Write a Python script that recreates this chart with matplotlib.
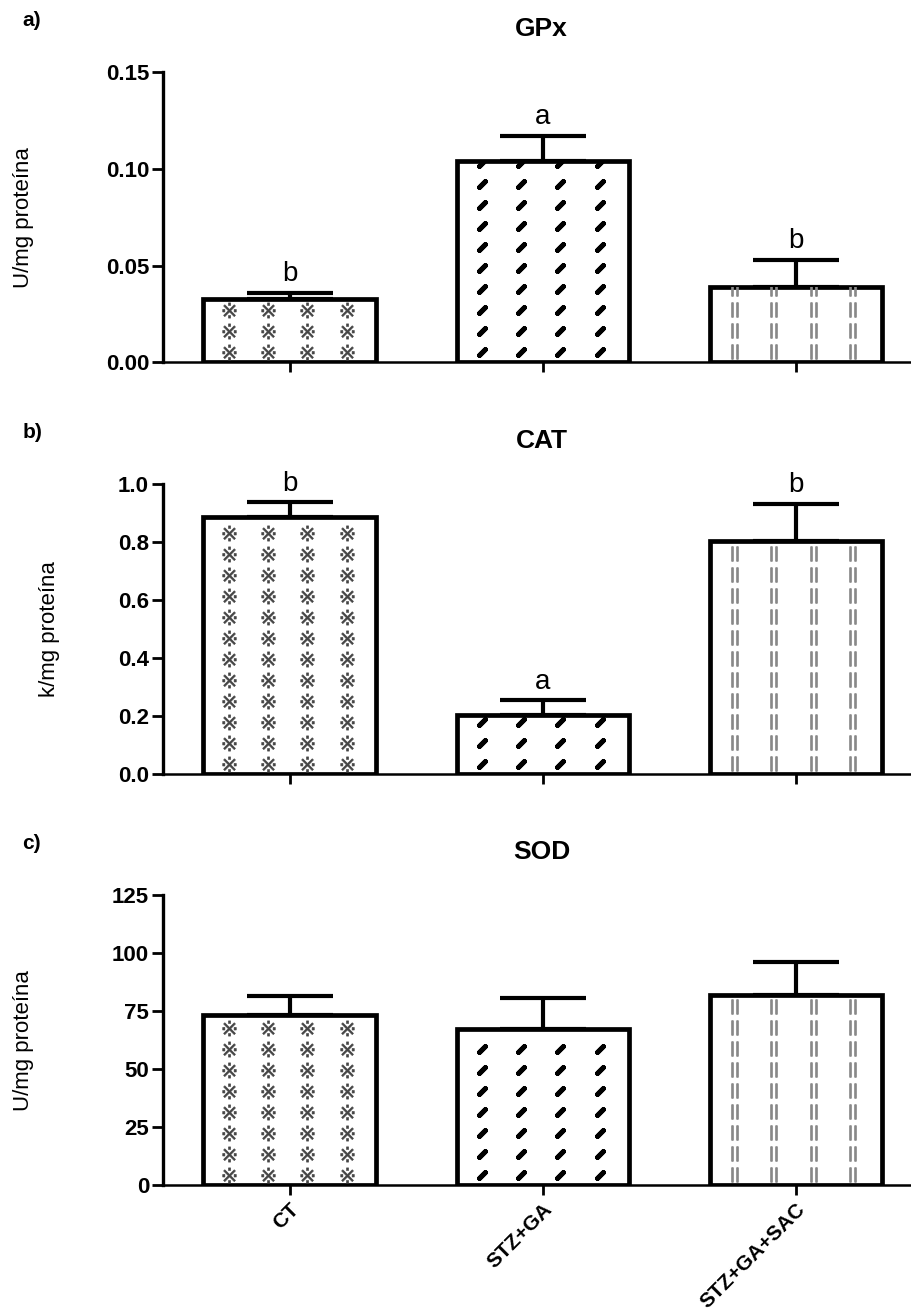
import matplotlib
matplotlib.use("Agg")
import matplotlib.pyplot as plt
import numpy as np

plt.rcParams['font.family'] = ['Liberation Sans', 'DejaVu Sans']

groups = ["CT", "STZ+GA", "STZ+GA+SAC"]

# GPx
gpx_mean = [0.033, 0.104, 0.039]
gpx_err = [0.003, 0.013, 0.014]
gpx_letters = ["b", "a", "b"]

# CAT
cat_mean = [0.885, 0.203, 0.805]
cat_err = [0.052, 0.052, 0.128]
cat_letters = ["b", "a", "b"]

# SOD
sod_mean = [73.5, 67.5, 82.0]
sod_err = [8.0, 13.0, 14.0]
sod_letters = ["", "", ""]

panels = [
    ("a)", "GPx", "U/mg proteína", gpx_mean, gpx_err, gpx_letters, 0.15, [0, 0.05, 0.10, 0.15], "%.2f", -0.170),
    ("b)", "CAT", "k/mg proteína", cat_mean, cat_err, cat_letters, 1.0, [0, 0.2, 0.4, 0.6, 0.8, 1.0], "%.1f", -0.136),
    ("c)", "SOD", "U/mg proteína", sod_mean, sod_err, sod_letters, 125, [0, 25, 50, 75, 100, 125], "%d", -0.170),
]

# fill patterns for each group: marker, colour, size, edge width
patterns = [("$※$", "#444444", 120, 0.4), ((2, 2, -45), "black", 35, 3.5), ("$||$", "#888888", 110, 1.2)]

fig = plt.figure(figsize=(9.12, 13.15), dpi=100)
tops = [0.9452, 0.6319, 0.3194]
height = 0.2208
x = np.arange(len(groups))

for (plabel, title, ylabel, mean, err, letters, ymax, yticks, fmt, lx), top in zip(panels, tops):
    ax = fig.add_axes([0.1787, top - height, 0.83, height])
    bars = ax.bar(x, mean, width=0.68, color="white", edgecolor="black", linewidth=3.4, zorder=2)
    ax.errorbar(x, mean, yerr=[[0] * 3, err], fmt="none", ecolor="black",
                elinewidth=3, capsize=31, capthick=3, zorder=1)

    # pattern inside bars
    step = ymax * 21 / 291
    for i, b in enumerate(bars):
        marker, col, ms, lw = patterns[i]
        xs = x[i] + np.array([-0.24, -0.085, 0.07, 0.225])
        ys = np.arange(step * 0.5, mean[i], step)
        gx, gy = np.meshgrid(xs, ys)
        sc = ax.scatter(gx.ravel(), gy.ravel(), marker=marker, s=ms, c=col,
                        linewidths=lw, edgecolors=col, zorder=3)
        sc.set_clip_path(b)

    for i, lt in enumerate(letters):
        if lt:
            ax.annotate(lt, (x[i], mean[i] + err[i]), xytext=(0, 4), textcoords="offset points",
                        ha="center", va="bottom", fontsize=20)

    ax.set_xlim(-0.5, 2.49)
    ax.set_ylim(0, ymax)
    ax.set_yticks(yticks)
    ax.set_yticklabels([fmt % v for v in yticks], fontsize=16, fontweight="bold")
    ax.set_xticks(x)
    ax.spines["top"].set_visible(False)
    ax.spines["right"].set_visible(False)
    ax.spines["left"].set_linewidth(2.4)
    ax.spines["bottom"].set_linewidth(1.8)
    ax.tick_params(axis="y", length=8, width=2, pad=2)
    ax.tick_params(axis="x", length=7, width=2)
    ax.set_ylabel(ylabel, fontsize=16)
    ax.yaxis.set_label_coords(lx, 0.5)
    ax.set_title(title, fontsize=19, fontweight="bold", pad=26)
    ax.text(-0.186, 1.16, plabel, transform=ax.transAxes, fontsize=15, fontweight="bold")

    if plabel == "c)":
        ax.set_xticklabels(groups, rotation=45, ha="right", rotation_mode="anchor",
                           fontsize=15, fontweight="bold")
    else:
        ax.set_xticklabels([])

fig.savefig("out.png", dpi=100)
